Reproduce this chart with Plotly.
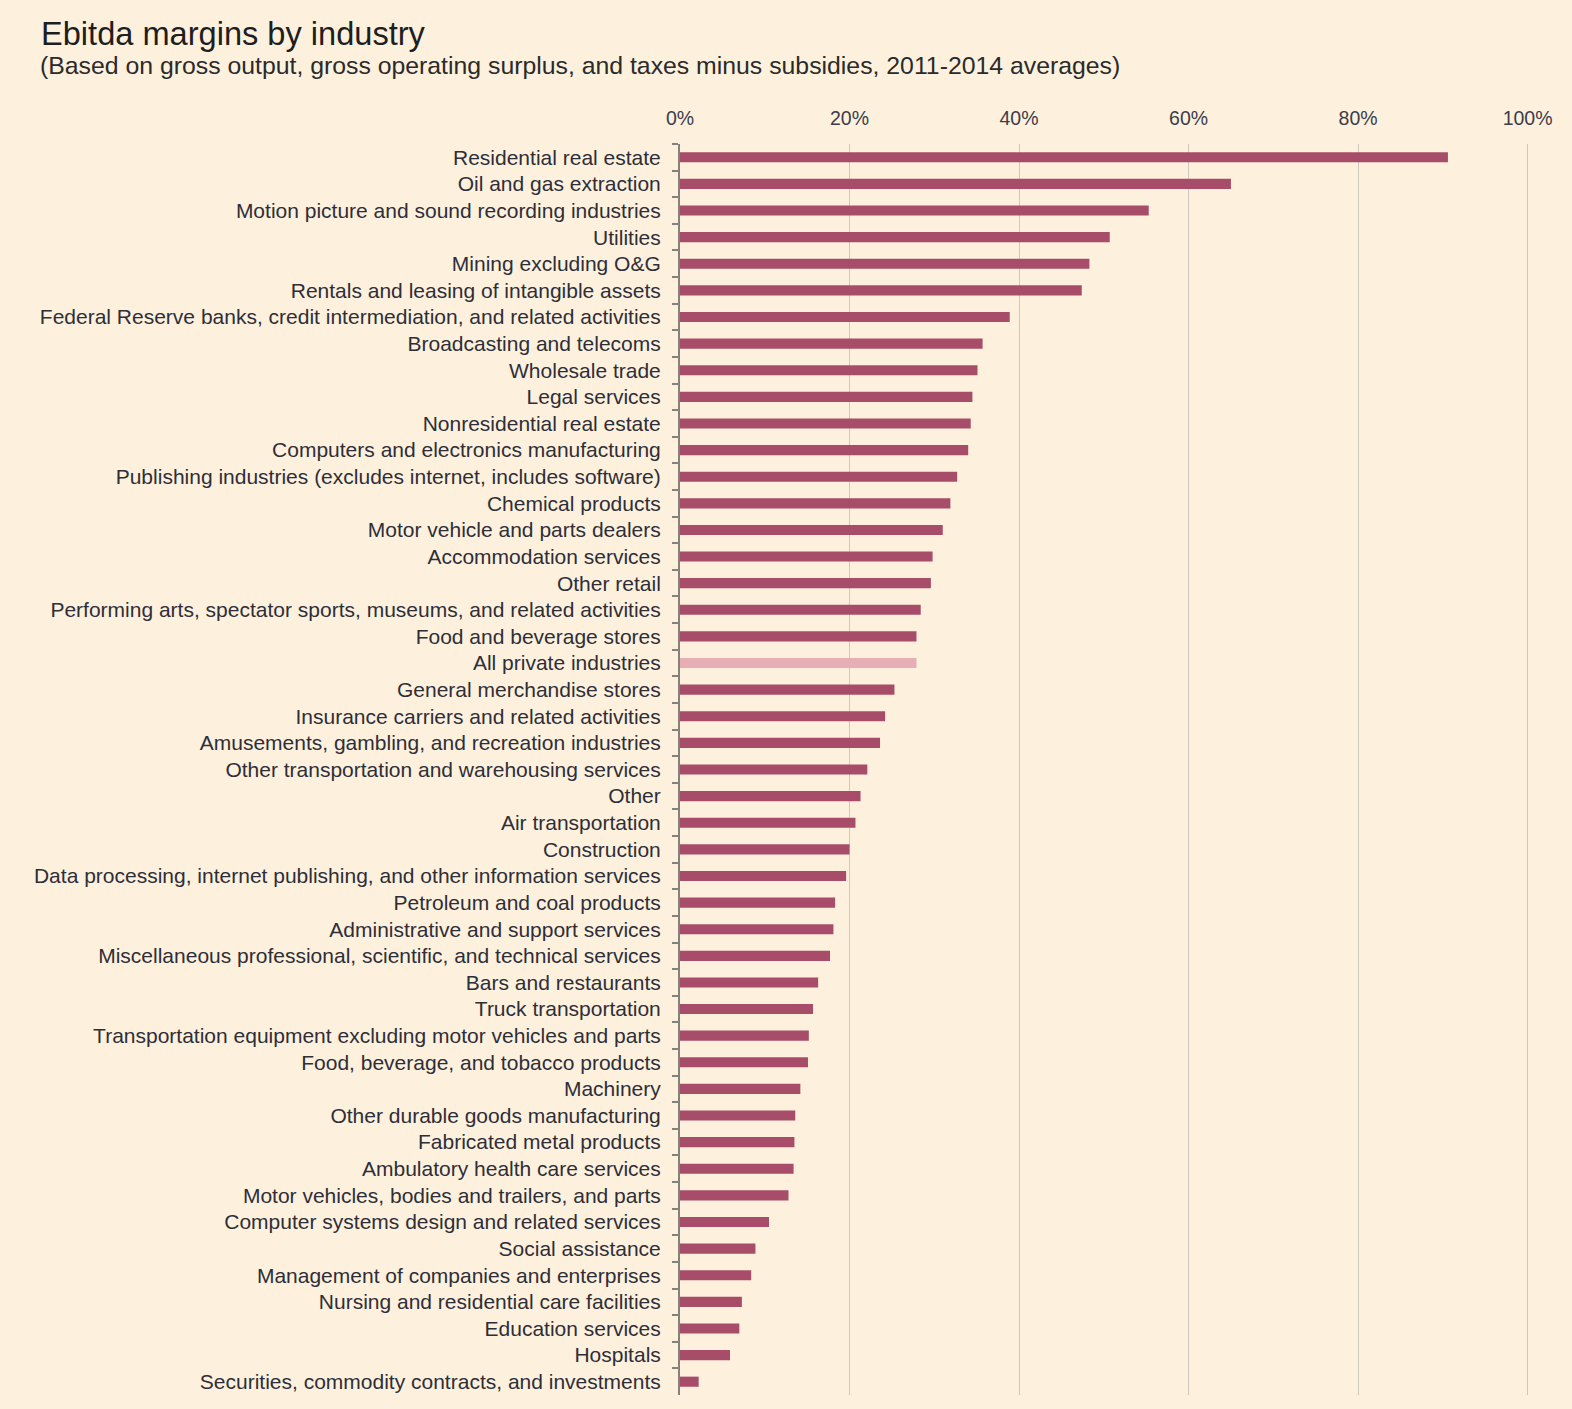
import plotly.graph_objects as go

industries = [
    "Residential real estate",
    "Oil and gas extraction",
    "Motion picture and sound recording industries",
    "Utilities",
    "Mining excluding O&G",
    "Rentals and leasing of intangible assets",
    "Federal Reserve banks, credit intermediation, and related activities",
    "Broadcasting and telecoms",
    "Wholesale trade",
    "Legal services",
    "Nonresidential real estate",
    "Computers and electronics manufacturing",
    "Publishing industries (excludes internet, includes software)",
    "Chemical products",
    "Motor vehicle and parts dealers",
    "Accommodation services",
    "Other retail",
    "Performing arts, spectator sports, museums, and related activities",
    "Food and beverage stores",
    "All private industries",
    "General merchandise stores",
    "Insurance carriers and related activities",
    "Amusements, gambling, and recreation industries",
    "Other transportation and warehousing services",
    "Other",
    "Air transportation",
    "Construction",
    "Data processing, internet publishing, and other information services",
    "Petroleum and coal products",
    "Administrative and support services",
    "Miscellaneous professional, scientific, and technical services",
    "Bars and restaurants",
    "Truck transportation",
    "Transportation equipment excluding motor vehicles and parts",
    "Food, beverage, and tobacco products",
    "Machinery",
    "Other durable goods manufacturing",
    "Fabricated metal products",
    "Ambulatory health care services",
    "Motor vehicles, bodies and trailers, and parts",
    "Computer systems design and related services",
    "Social assistance",
    "Management of companies and enterprises",
    "Nursing and residential care facilities",
    "Education services",
    "Hospitals",
    "Securities, commodity contracts, and investments",
]

margins_pct = [
    90.6, 65.0, 55.3, 50.7, 48.3, 47.4, 38.9, 35.7, 35.1, 34.5,
    34.3, 34.0, 32.7, 31.9, 31.0, 29.8, 29.6, 28.4, 27.9, 27.9,
    25.3, 24.2, 23.6, 22.1, 21.3, 20.7, 20.0, 19.6, 18.3, 18.1,
    17.7, 16.3, 15.7, 15.2, 15.1, 14.2, 13.6, 13.5, 13.4, 12.8,
    10.5, 8.9, 8.4, 7.3, 7.0, 5.9, 2.2,
]

x_tick_vals = [0, 20, 40, 60, 80, 100]
x_tick_text = ["0%", "20%", "40%", "60%", "80%", "100%"]

highlight = "All private industries"
colors = ["#E8AEB5" if n == highlight else "#A84D69" for n in industries]

fig = go.Figure(
    go.Bar(
        x=margins_pct,
        y=industries,
        orientation="h",
        marker=dict(color=colors, line=dict(width=0)),
        hoverinfo="x+y",
    )
)

bg = "#FDF1DE"
ML, MR, MT, MB = 680, 41, 144, 14
fig.update_layout(
    width=1572,
    height=1409,
    paper_bgcolor=bg,
    plot_bgcolor=bg,
    margin=dict(l=ML, r=MR, t=MT, b=MB),
    bargap=0.62,
    showlegend=False,
    font=dict(family="Liberation Sans, Arial, sans-serif", color="#333333"),
)

fig.update_xaxes(
    side="top",
    range=[0, 100.4],
    tickvals=x_tick_vals,
    ticktext=x_tick_text,
    showgrid=True,
    gridcolor="#CFC8BD",
    gridwidth=1.3,
    zeroline=False,
    showline=False,
    ticks="",
    tickfont=dict(size=19.5, color="#3C3C4A"),
    ticklabelstandoff=14,
)

fig.update_yaxes(
    categoryorder="array",
    categoryarray=industries,
    autorange="reversed",
    showline=True,
    linecolor="#85817B",
    linewidth=2,
    ticks="outside",
    tickson="boundaries",
    ticklen=6,
    tickcolor="#85817B",
    tickwidth=1.5,
    tickfont=dict(size=21, color="#2E2E38"),
    showgrid=False,
    ticklabelstandoff=13,
)

plot_w = 1572 - ML - MR
plot_h = 1409 - MT - MB

def px_x(px):
    return (px - ML) / plot_w

def px_y(py):
    return (1409 - MB - py) / plot_h

fig.add_annotation(
    text="Ebitda margins by industry",
    xref="paper", yref="paper",
    x=px_x(39), y=px_y(33),
    xanchor="left", yanchor="middle",
    showarrow=False,
    font=dict(size=32.6, color="#1E1E1E"),
)
fig.add_annotation(
    text="(Based on gross output, gross operating surplus, and taxes minus subsidies, 2011-2014 averages)",
    xref="paper", yref="paper",
    x=px_x(38), y=px_y(65),
    xanchor="left", yanchor="middle",
    showarrow=False,
    font=dict(size=24.8, color="#2A2A2A"),
)

fig.write_html(
    "out.html",
    config={"displayModeBar": False},
    post_script="document.body.style.margin='0';document.body.style.background='#FDF1DE';",
)
